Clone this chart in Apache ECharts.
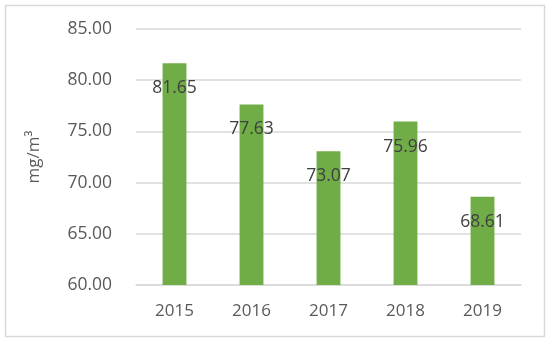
<!DOCTYPE html>
<html>
<head>
<meta charset="utf-8">
<script src="https://cdn.jsdelivr.net/npm/echarts@6/dist/echarts.min.js"></script>
<style>html,body{margin:0;padding:0;background:#fff;}#c{width:550px;height:344px;}</style>
</head>
<body>
<div id="c"></div>
<script>
const categories = ['2015', '2016', '2017', '2018', '2019'];
const values = [81.65, 77.63, 73.07, 75.96, 68.61];
const yAxisName = 'mg/m³';

const chart = echarts.init(document.getElementById('c'), null, {renderer: 'canvas'});
const font = '"Open Sans", sans-serif';
chart.setOption({
  animation: false,
  graphic: [{
    type: 'rect', shape: {x: 5.5, y: 5.5, width: 539, height: 331},
    style: {fill: 'none', stroke: '#d9d9d9', lineWidth: 1.5}
  }],
  grid: {left: 136, right: 29, top: 29, bottom: 59},
  xAxis: {
    type: 'category', data: categories,
    axisLine: {lineStyle: {color: '#d9d9d9', width: 1.5}},
    axisTick: {show: false},
    axisLabel: {color: '#595959', fontSize: 17, fontFamily: font, margin: 18}
  },
  yAxis: {
    type: 'value', min: 60, max: 85, interval: 5,
    name: yAxisName, nameLocation: 'middle', nameGap: 93, nameRotate: 90,
    nameTextStyle: {color: '#595959', fontSize: 17, fontFamily: font},
    axisLine: {show: false}, axisTick: {show: false},
    axisLabel: {color: '#595959', fontSize: 17.5, fontFamily: font, margin: 24,
      formatter: v => v.toFixed(2)},
    splitLine: {lineStyle: {color: '#d9d9d9', width: 1.5}}
  },
  series: [{
    type: 'bar', data: values, barWidth: '31%',
    itemStyle: {color: '#70ad47'},
    label: {show: true, position: 'insideTop', distance: 16, color: '#404040',
      fontSize: 17.5, fontFamily: font, formatter: p => p.value.toFixed(2)}
  }]
});
</script>
</body>
</html>
